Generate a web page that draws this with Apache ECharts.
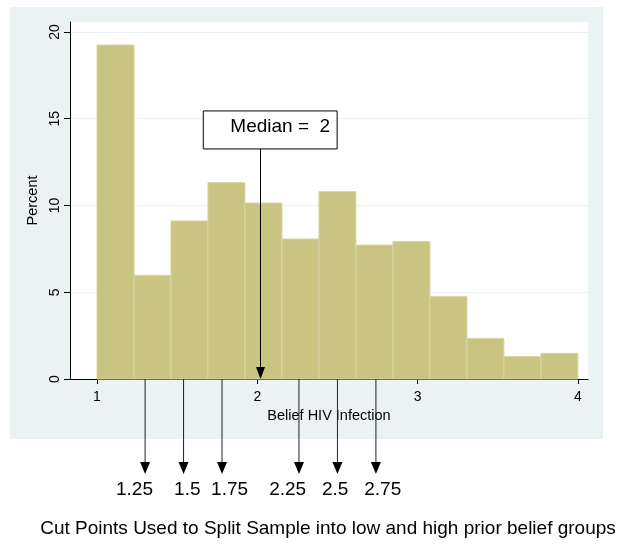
<!DOCTYPE html>
<html>
<head>
<meta charset="utf-8">
<script src="https://cdn.jsdelivr.net/npm/echarts@6/dist/echarts.min.js"></script>
<style>
html,body{margin:0;padding:0;background:#fff;}
#c{width:621px;height:544px;}
</style>
</head>
<body>
<div id="c"></div>
<script>
// ---- data ----
var binStart = 1;
var binEnd = 4;
var percents = [19.25, 5.98, 9.11, 11.32, 10.14, 8.07, 10.8, 7.72, 7.93, 4.76, 2.34, 1.29, 1.48];
var yTicks = [0, 5, 10, 15, 20];
var xTicks = [1, 2, 3, 4];
var medianValue = 2;
var medianArrowX = [2.02];
var cutArrowX = [1.30, 1.54, 1.78, 2.26, 2.50, 2.74];
var cutLabels = ['1.25', '1.5', '1.75', '2.25', '2.5', '2.75'];
var xTitle = 'Belief HIV Infection';
var yTitle = 'Percent';
var footNote = 'Cut Points Used to Split Sample into low and high prior belief groups';

var FONT = '"Liberation Sans", Arial, Helvetica, sans-serif';
var nBins = percents.length;
var w = (binEnd - binStart) / nBins;
var barData = percents.map(function (v, i) {
  return [binStart + i * w, binStart + (i + 1) * w, v];
});

var chart = echarts.init(document.getElementById('c'), null, {renderer: 'canvas'});

var option = {
  animation: false,
  backgroundColor: '#ffffff',
  textStyle: {fontFamily: FONT},
  graphic: [
    {type: 'rect', z: -10, shape: {x: 10, y: 7, width: 593, height: 432}, style: {fill: '#eaf2f3'}},
    {type: 'text', x: 116, y: 490, style: {
      text: cutLabels[0] + '    ' + cutLabels[1] + '  ' + cutLabels[2] + '    ' + cutLabels[3] + '   ' + cutLabels[4] + '   ' + cutLabels[5],
      fontSize: 19, fontFamily: FONT, fill: '#000', align: 'left', verticalAlign: 'middle'}},
    {type: 'text', x: 328, y: 529, style: {
      text: footNote, fontSize: 19, fontFamily: FONT, fill: '#000', align: 'center', verticalAlign: 'middle'}}
  ],
  grid: {left: 70, right: 33, top: 22, bottom: 165, show: true, backgroundColor: '#ffffff', borderWidth: 0},
  xAxis: {
    type: 'value', min: 0.8316, max: 4.063,
    name: xTitle, nameLocation: 'middle', nameGap: 25,
    nameTextStyle: {fontSize: 14.5, color: '#000', fontFamily: FONT},
    axisLine: {show: true, onZero: false, lineStyle: {color: '#000', width: 1}},
    axisTick: {show: true, length: 5, customValues: xTicks, lineStyle: {color: '#000'}},
    axisLabel: {customValues: xTicks, fontSize: 14, color: '#000', margin: 11, fontFamily: FONT},
    splitLine: {show: false}
  },
  yAxis: {
    type: 'value', min: 0, max: 20.576,
    name: yTitle, nameLocation: 'middle', nameGap: 23, nameRotate: 90,
    nameTextStyle: {fontSize: 14.5, color: '#000', fontFamily: FONT},
    axisLine: {show: true, lineStyle: {color: '#000', width: 1}},
    axisTick: {show: true, length: 6, customValues: yTicks, lineStyle: {color: '#000'}},
    axisLabel: {customValues: yTicks, rotate: 90, fontSize: 14, color: '#000', margin: 8, fontFamily: FONT},
    splitLine: {show: true, lineStyle: {color: '#eaf2f3', width: 1}}
  },
  series: [
    {
      type: 'custom', name: 'hist', data: barData, encode: {x: [0, 1], y: 2}, z: 2,
      renderItem: function (params, api) {
        var p0 = api.coord([api.value(0), api.value(2)]);
        var p1 = api.coord([api.value(1), 0]);
        return {type: 'rect', shape: {x: p0[0], y: p0[1], width: p1[0] - p0[0], height: p1[1] - p0[1]},
          style: {fill: '#c9c481', stroke: '#d9d5a4', lineWidth: 1}};
      }
    },
    {
      type: 'custom', name: 'median', data: medianArrowX.map(function (x) { return [x, 0]; }),
      encode: {x: 0, y: 1}, clip: false, z: 5,
      renderItem: function (params, api) {
        var x = api.value(0);
        var base = api.coord([x, 0]);
        var tl = api.coord([1.663, 15.45]);
        var br = api.coord([2.498, 13.26]);
        return {type: 'group', children: [
          {type: 'line', shape: {x1: base[0], y1: br[1], x2: base[0], y2: base[1] - 10}, style: {stroke: '#000', lineWidth: 1}},
          {type: 'polygon', shape: {points: [[base[0] - 4.5, base[1] - 12], [base[0] + 4.5, base[1] - 12], [base[0], base[1]]]}, style: {fill: '#000'}},
          {type: 'rect', shape: {x: tl[0], y: tl[1], width: br[0] - tl[0], height: br[1] - tl[1]}, style: {fill: '#fff', stroke: '#000', lineWidth: 1}},
          {type: 'text', x: br[0] - 7, y: (tl[1] + br[1]) / 2 - 3, style: {text: 'Median =  ' + medianValue, fontSize: 19, fontFamily: FONT, fill: '#000', align: 'right', verticalAlign: 'middle'}}
        ]};
      }
    },
    {
      type: 'custom', name: 'cuts', data: cutArrowX.map(function (x) { return [x, 0]; }),
      encode: {x: 0, y: 1}, clip: false, z: 5,
      renderItem: function (params, api) {
        var p = api.coord([api.value(0), 0]);
        var tipY = p[1] + 95;
        return {type: 'group', children: [
          {type: 'line', shape: {x1: p[0], y1: p[1], x2: p[0], y2: tipY - 10}, style: {stroke: '#222', lineWidth: 1}},
          {type: 'polygon', shape: {points: [[p[0] - 5, tipY - 12], [p[0] + 5, tipY - 12], [p[0], tipY]]}, style: {fill: '#000'}}
        ]};
      }
    }
  ]
};
chart.setOption(option);
</script>
</body>
</html>
